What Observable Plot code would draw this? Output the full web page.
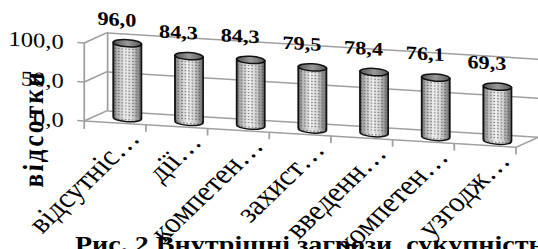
<!DOCTYPE html>
<html>
<head>
<meta charset="utf-8">
<script src="https://cdn.jsdelivr.net/npm/d3@7"></script>
<script src="https://cdn.jsdelivr.net/npm/@observablehq/plot@0.6"></script>
<style>
  html, body { margin: 0; padding: 0; background: #fff; overflow: hidden; }
  #wrap { position: relative; width: 460px; height: 249px; transform: scaleX(1.17); transform-origin: 0 0; }
  #caption { position: absolute; left: 64px; top: 232px; font: bold 24px "Liberation Serif", "Times New Roman", serif; line-height: 24px; white-space: nowrap; color: #000; }
</style>
</head>
<body>
<div id="wrap">
  <div id="chart"></div>
  <div id="caption">Рис. 2 Внутрішні загрози, сукупність</div>
</div>
<script>
const categories = ["відсутніс…", "дії…", "компетен…", "захист…", "введенн…", "компетен…", "узгодж…"];
const values = [96.0, 84.3, 84.3, 79.5, 78.4, 76.1, 69.3];
const yTicks = [0, 50, 100];
const yTitle = "відсотки";

const fmt = v => v.toFixed(1).replace(".", ",");
const data = categories.map((c, i) => ({i, cat: c, value: values[i]}));

const W = 460, H = 249;
const DX = 20, DY = -12;      // depth of the 3D box (pixels)
const BX = DX / 2, BY = DY / 2; // bars sit mid-depth
const K = 0.0714, X0 = 72;    // perspective skew
const GRID = "#a0a0a0";

const ellipse = (rx, ry) => ({
  draw(ctx) {
    const kx = rx * 0.5523, ky = ry * 0.5523;
    ctx.moveTo(-rx, 0);
    ctx.bezierCurveTo(-rx, -ky, -kx, -ry, 0, -ry);
    ctx.bezierCurveTo(kx, -ry, rx, -ky, rx, 0);
    ctx.bezierCurveTo(rx, ky, kx, ry, 0, ry);
    ctx.bezierCurveTo(-kx, ry, -rx, ky, -rx, 0);
    ctx.closePath();
  }
});
const cap = ellipse(12, 3.6);

const frame = (index, scales) => {
  const {x, y} = scales;
  const g = d3.create("svg:g").attr("stroke", GRID).attr("stroke-width", 1.5).attr("fill", "none");
  const line = (x1, y1, x2, y2) => g.append("line").attr("x1", x1).attr("y1", y1).attr("x2", x2).attr("y2", y2);
  const x0 = x(0), xn = x(categories.length);
  for (const v of yTicks) {
    line(x0, y(v), x0 + DX, y(v) + DY);
    line(x0 - 6, y(v), x0, y(v));
  }
  line(x0, y(yTicks[yTicks.length - 1]), x0, y(0) + 8);
  line(x0 + DX, y(yTicks[yTicks.length - 1]) + DY, x0 + DX, y(0) + DY);
  line(x0, y(0), xn, y(0));
  line(xn, y(0), xn + DX, y(0) + DY);
  for (let k = 1; k <= categories.length; k++) line(x(k), y(0), x(k), y(0) + 7);
  return g.node();
};

const bandPx = (W - 72 - 19) / categories.length;
const inset = (bandPx - 24) / 2;
const serif = "'Liberation Serif', 'Times New Roman', serif";

const chart = Plot.plot({
  width: W,
  height: H,
  marginLeft: 72,
  marginRight: 19,
  marginTop: 43,
  marginBottom: H - 121,
  x: {domain: [0, categories.length], axis: null},
  y: {domain: [0, 100], axis: null},
  style: {fontFamily: serif, background: "transparent", overflow: "visible", color: "#000"},
  marks: [
    Plot.ruleY(yTicks, {y: d => d, dx: DX, dy: DY, stroke: GRID, strokeWidth: 1.5}),
    frame,
    Plot.text(yTicks, {x: () => 0, y: d => d, text: fmt, textAnchor: "end", dx: -18, fontSize: 21, fill: "#000"}),
    Plot.text([yTitle], {x: () => 0, y: () => 0, text: d => d, rotate: -90, dx: -44, dy: 10, fontSize: 25, fontWeight: "bold", fill: "#000"}),
    // cylinder bottoms
    Plot.dot(data, {x: d => d.i + 0.5, y: () => 0, symbol: cap, dx: BX, dy: BY, fill: "url(#cylGrad)", stroke: "#111", strokeWidth: 1.5}),
    Plot.dot(data, {x: d => d.i + 0.5, y: () => 0, symbol: cap, dx: BX, dy: BY, fill: "url(#dots)", stroke: "none"}),
    // cylinder bodies
    Plot.rectY(data, {x1: d => d.i, x2: d => d.i + 1, y: "value", insetLeft: inset, insetRight: inset, dx: BX, dy: BY, fill: "url(#cylGrad)"}),
    Plot.rectY(data, {x1: d => d.i, x2: d => d.i + 1, y: "value", insetLeft: inset, insetRight: inset, dx: BX, dy: BY, fill: "url(#dots)"}),
    Plot.ruleX(data, {x: d => d.i + 0.5, y1: () => 0, y2: "value", dx: BX - 12, dy: BY, stroke: "#111", strokeWidth: 1.5}),
    Plot.ruleX(data, {x: d => d.i + 0.5, y1: () => 0, y2: "value", dx: BX + 12, dy: BY, stroke: "#111", strokeWidth: 1.5}),
    // cylinder tops
    Plot.dot(data, {x: d => d.i + 0.5, y: "value", symbol: cap, dx: BX, dy: BY, fill: "url(#topGrad)", stroke: "#111", strokeWidth: 1.5}),
    // value labels
    Plot.text(data, {x: d => d.i + 0.5, y: "value", text: d => fmt(d.value), dx: BX - 9, dy: BY - 23, fontSize: 19, fontWeight: "bold", fill: "#000"}),
    // category labels
    Plot.text(data, {x: d => d.i + 1, y: () => 0, text: "cat", rotate: -50, textAnchor: "end", dx: -11, dy: 9, fontSize: 27, fill: "#000"})
  ]
});

chart.style.transformOrigin = "0 0";
chart.style.transform = `matrix(1, ${K}, 0, 1, 0, ${-K * X0})`;
d3.select(chart).selectAll("text").filter(function() { return this.textContent === yTitle; }).attr("letter-spacing", "2.5px");

const defs = d3.select(chart).insert("defs", ":first-child");
const lg = defs.append("linearGradient").attr("id", "cylGrad").attr("x1", 0).attr("x2", 1).attr("y1", 0).attr("y2", 0);
[[0, "#6e6e6e"], [0.18, "#b8b8b8"], [0.45, "#f2f2f2"], [0.7, "#d8d8d8"], [1, "#707070"]]
  .forEach(([o, c]) => lg.append("stop").attr("offset", o).attr("stop-color", c));
const tg = defs.append("linearGradient").attr("id", "topGrad").attr("x1", 0).attr("x2", 1).attr("y1", 0).attr("y2", 0);
[[0, "#555"], [0.5, "#999"], [1, "#5a5a5a"]]
  .forEach(([o, c]) => tg.append("stop").attr("offset", o).attr("stop-color", c));
const pat = defs.append("pattern").attr("id", "dots").attr("patternUnits", "userSpaceOnUse").attr("width", 3).attr("height", 3);
pat.append("circle").attr("cx", 1.5).attr("cy", 1.5).attr("r", 0.8).attr("fill", "#444").attr("fill-opacity", 0.65);

document.getElementById("chart").appendChild(chart);
</script>
</body>
</html>
